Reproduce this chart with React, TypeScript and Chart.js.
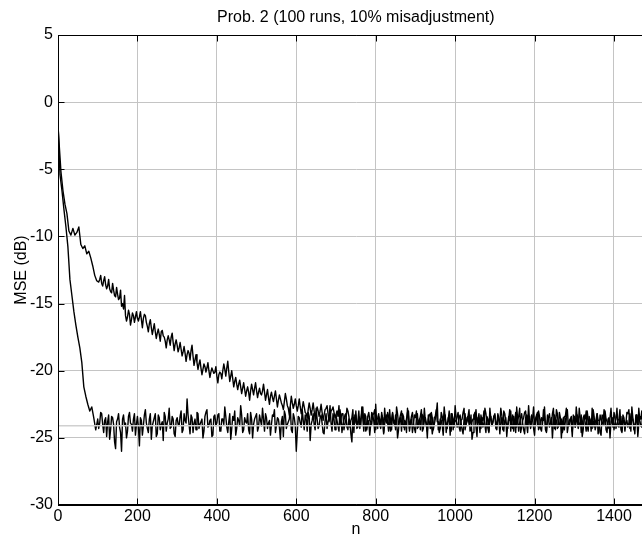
import React, { useEffect, useRef } from "react";
import { Chart, registerables } from "chart.js";

Chart.register(...registerables);

const TITLE = "Prob. 2 (100 runs, 10% misadjustment)";
const X_LABEL = "n";
const Y_LABEL = "MSE (dB)";
const X_MIN = 0;
const X_MAX = 1500;
const Y_MIN = -30;
const Y_MAX = 5;
const X_TICKS = [0, 200, 400, 600, 800, 1000, 1200, 1400];
const Y_TICKS = [5, 0, -5, -10, -15, -20, -25, -30];
const N_STEP = 5;
const REF_LEVEL = -24.1;

// fast curve, n = 0, 5, 10, ... 1495
const FAST_A = [
  -1.5, -5.4, -6.6, -8.0, -9.3, -10.8, -13.2, -14.4, -15.6, -16.6, -17.5, -18.3, -19.4, -21.2, -21.9, -22.5, -23.0, -22.7, -23.5, -24.4,
  -23.6, -23.9, -23.2, -24.6, -23.5, -23.8, -25.1, -23.4, -24.0, -25.8, -23.6, -24.2, -26.0, -23.3, -23.9, -24.5, -23.1, -24.0, -23.6, -24.8,
  -23.4, -25.6, -23.7, -24.1, -22.9, -24.3, -23.6, -25.1, -23.8, -23.2, -24.7, -23.5, -24.0, -25.2, -23.4, -23.9, -22.8, -24.2, -23.6, -24.9,
  -23.5, -24.1, -23.0, -24.4, -23.7, -22.1, -24.0, -23.3, -24.6, -23.6, -23.1, -24.3, -23.8, -25.0, -23.4, -22.9, -24.1, -23.6, -24.8, -23.3,
  -23.9, -23.2, -24.5, -23.6, -22.7, -24.2, -23.8, -25.1, -23.4, -23.0, -24.3, -23.7, -22.6, -24.6, -23.5, -23.9, -24.4, -23.1, -25.0, -23.6,
  -23.2, -24.2, -23.7, -22.8, -24.5, -23.5, -23.9, -24.8, -23.3, -22.9, -24.1, -23.6, -25.1, -23.4, -23.0, -24.3, -23.8, -22.7, -24.6, -23.5,
  -26.0, -23.4, -23.9, -22.9, -24.4, -23.6, -23.1, -25.2, -23.7, -24.0, -22.8, -24.3, -23.5, -23.9, -24.7, -23.2, -23.8, -22.6, -24.5, -23.6,
  -23.3, -24.1, -22.9, -24.6, -23.7, -23.2, -24.4, -23.8, -25.3, -23.5, -23.0, -24.2, -23.6, -22.7, -24.5, -23.4, -23.9, -24.8, -23.1, -23.7,
  -22.5, -24.3, -23.6, -23.1, -24.7, -23.5, -23.9, -22.9, -24.4, -23.7, -23.3, -25.0, -23.6, -23.0, -24.2, -23.8, -22.8, -24.5, -23.4, -23.9,
  -24.6, -23.2, -23.7, -22.9, -24.3, -23.5, -25.0, -23.8, -23.1, -24.4, -23.6, -22.4, -24.1, -23.7, -24.8, -23.3, -23.9, -23.0, -24.5, -23.6,
  -22.6, -24.2, -23.5, -23.9, -24.7, -23.2, -23.8, -22.9, -24.4, -23.6, -23.1, -24.9, -23.7, -23.3, -24.2, -22.8, -23.9, -24.6, -23.4, -23.8,
  -23.2, -24.4, -23.6, -22.8, -24.1, -23.7, -24.9, -23.4, -23.0, -24.3, -23.8, -22.7, -24.5, -23.5, -23.9, -24.7, -23.3, -22.6, -24.2, -23.6,
  -24.8, -23.4, -23.0, -24.3, -23.7, -22.7, -24.5, -23.6, -23.9, -25.0, -23.3, -22.9, -24.2, -23.7, -24.6, -23.4, -22.8, -24.1, -23.6, -24.9,
  -23.5, -22.7, -24.3, -23.8, -24.9, -23.4, -23.0, -24.5, -23.7, -22.8, -24.2, -23.6, -24.7, -23.3, -23.9, -22.9, -24.4, -23.6, -25.0, -23.5,
  -23.1, -24.3, -23.7, -22.9, -24.6, -23.5, -23.9, -24.2, -23.2, -22.7, -24.4, -23.8, -24.9, -23.4, -23.0, -24.1, -23.6, -22.8, -24.5, -23.7,
];

// fast curve, in-between samples n = 102.5, 107.5, ... 1497.5
const FAST_B_START = 102.5;
const FAST_B = [
  -24.3, -23.1, -24.0, -23.7, -24.9, -23.3, -24.4, -23.5, -25.3, -23.8, -23.2, -24.6, -23.6, -24.1, -25.0, -23.4, -23.9, -24.5, -23.2, -24.0,
  -24.2, -23.5, -24.8, -23.3, -23.9, -24.6, -23.2, -24.1, -23.5, -24.9, -23.3, -24.4, -23.8, -23.1, -24.5, -23.6, -24.3, -23.4, -24.7, -23.7,
  -24.0, -23.4, -24.6, -23.2, -23.9, -23.3, -24.7, -23.5, -23.9, -24.4, -23.2, -24.0, -23.6, -24.5, -23.1, -24.2, -23.7, -24.9, -23.4, -24.1,
  -23.3, -24.5, -23.6, -24.0, -23.4, -24.6, -23.2, -24.3, -23.7, -24.8, -23.5, -24.1, -23.3, -24.4, -23.8, -23.2, -24.7, -23.6, -24.0, -23.4,
  -24.5, -23.3, -24.1, -23.6, -23.2, -24.3, -23.7, -24.0, -23.4, -24.6, -23.5, -24.2, -23.8, -24.9, -23.3, -24.0, -23.6, -24.4, -23.2, -24.1,
  -24.6, -23.5, -24.2, -23.7, -23.3, -24.5, -23.4, -24.0, -23.2, -24.4, -23.6, -24.1, -23.3, -24.6, -23.7, -24.3, -23.5, -23.9, -23.2, -24.4,
  -23.7, -24.5, -23.4, -24.0, -23.3, -24.2, -23.6, -24.7, -23.5, -23.9, -24.3, -23.4, -24.1, -23.6, -23.2, -24.4, -23.7, -24.0, -23.3, -24.6,
  -23.9, -23.4, -24.2, -23.6, -24.0, -23.3, -24.5, -23.8, -23.2, -24.1, -23.6, -24.4, -23.3, -24.0, -23.7, -24.6, -23.4, -23.9, -23.1, -24.3,
  -23.6, -24.2, -23.4, -24.5, -23.7, -23.9, -23.3, -24.3, -23.5, -24.0, -23.2, -24.4, -23.6, -24.1, -23.4, -24.6, -23.7, -23.9, -23.3, -24.2,
  -23.5, -24.1, -23.3, -24.4, -23.6, -24.0, -23.4, -24.5, -23.8, -23.3, -24.2, -23.5, -24.6, -23.7, -23.9, -23.2, -24.3, -23.6, -24.0, -23.4,
  -24.3, -23.6, -23.9, -23.3, -24.5, -23.5, -24.0, -23.7, -24.2, -23.4, -24.6, -23.6, -23.9, -23.2, -24.4, -23.5, -24.1, -23.8, -23.3, -24.3,
  -23.6, -24.1, -23.4, -24.5, -23.7, -24.0, -23.3, -24.2, -23.5, -23.8, -24.4, -23.2, -24.0, -23.6, -24.3, -23.4, -24.6, -23.7, -23.9, -23.3,
  -24.2, -23.5, -24.0, -23.3, -24.4, -23.6, -24.1, -23.4, -24.5, -23.7, -23.9, -23.2, -24.3, -23.6, -24.0, -23.4, -24.6, -23.5, -23.8, -24.2,
  -23.4, -24.0, -23.6, -24.4, -23.3, -24.1, -23.7, -23.9, -24.5, -23.5, -24.2, -23.3, -24.0, -23.6, -24.4, -23.4, -23.8, -24.1, -23.5, -24.3,
];

// slow curve, n = 0, 7.5, 12.5, ... 1497.5 (first sample at 0)
const SLOW_A = [
  -1.8, -5.2, -6.6, -7.6, -8.3, -9.6, -9.9, -9.4, -9.9, -9.7, -9.3, -10.6, -10.9, -10.7, -11.3, -11.1, -11.6, -12.2, -12.9, -13.3,
  -13.4, -12.9, -13.7, -13.0, -13.9, -13.2, -14.1, -13.5, -14.4, -13.8, -14.7, -14.0, -15.0, -14.4, -16.3, -15.5, -16.6, -15.7, -16.4, -15.6,
  -16.3, -15.6, -16.8, -15.8, -16.4, -17.1, -16.2, -17.3, -16.5, -17.6, -16.9, -17.8, -17.0, -17.5, -18.3, -17.4, -18.1, -17.2, -18.5, -17.7,
  -18.6, -17.9, -18.9, -18.2, -19.3, -18.5, -19.2, -18.1, -19.6, -18.8, -19.9, -19.2, -20.3, -19.5, -20.1, -19.4, -20.5, -19.8, -20.2, -19.7,
  -20.9, -20.1, -20.6, -19.5, -20.4, -19.3, -20.8, -20.0, -21.2, -20.5, -21.4, -20.7, -21.7, -20.9, -21.9, -21.2, -22.2, -21.0, -21.8, -20.9,
  -22.0, -21.3, -21.8, -21.0, -22.2, -21.4, -22.5, -21.6, -22.3, -21.5, -22.7, -21.8, -22.4, -22.9, -21.7, -22.6, -23.3, -21.9, -22.8, -22.1,
  -23.0, -22.1, -23.2, -22.3, -23.1, -23.5, -22.4, -23.3, -22.4, -23.6, -22.7, -23.4, -22.5, -23.7, -22.9, -22.6, -23.8, -23.0, -22.7, -23.5,
  -23.0, -22.6, -23.5, -23.2, -24.0, -22.8, -23.4, -23.7, -22.9, -23.3, -24.1, -23.0, -23.6, -22.7, -23.5, -24.2, -23.1, -23.8, -23.3, -22.9,
  -23.7, -23.2, -24.3, -23.5, -22.8, -23.9, -23.4, -24.5, -23.1, -23.7, -22.7, -24.0, -23.5, -23.2, -24.4, -23.6, -23.0, -23.8, -24.6, -23.3,
  -23.0, -23.9, -24.4, -23.3, -22.8, -24.1, -23.6, -23.2, -24.7, -23.5, -22.9, -23.8, -24.3, -23.4, -22.7, -24.0, -23.5, -24.8, -23.2, -23.7,
  -23.8, -23.1, -24.5, -23.6, -22.8, -24.0, -23.4, -23.9, -25.1, -23.3, -22.9, -23.7, -24.2, -23.5, -23.0, -24.6, -23.6, -22.8, -24.1, -23.4,
  -23.9, -23.2, -24.7, -23.5, -23.0, -23.8, -24.3, -22.9, -23.6, -24.5, -23.1, -23.7, -22.8, -24.2, -23.5, -23.0, -24.6, -23.4, -23.8, -22.7,
  -23.6, -23.1, -24.2, -23.5, -22.9, -24.4, -23.7, -23.2, -24.0, -22.8, -23.6, -24.3, -23.1, -25.0, -23.5, -23.8, -22.9, -24.1, -23.4, -23.7,
  -24.2, -23.3, -22.8, -24.6, -23.5, -23.9, -23.0, -24.1, -23.6, -22.9, -24.4, -23.2, -23.7, -24.8, -23.4, -23.0, -23.8, -24.3, -22.8, -23.6,
  -23.9, -22.8, -24.2, -23.4, -23.7, -24.5, -23.1, -22.9, -24.0, -23.6, -24.7, -23.3, -22.8, -24.1, -23.5, -23.9, -24.4, -23.2, -23.0, -24.2,
];
const SLOW_A_OFFSET = 2.5;

// slow curve, in-between samples n = 105, 110, ... 1500
const SLOW_B_START = 105;
const SLOW_B = [
  -13.2, -13.5, -13.3, -13.6, -13.7, -13.9, -14.2, -14.0, -14.5, -14.3, -14.6, -15.2, -15.4, -15.9, -16.0, -15.8, -16.2, -15.9, -16.0, -16.1,
  -16.0, -16.2, -16.1, -15.9, -16.7, -16.5, -16.8, -16.9, -17.1, -17.2, -17.3, -17.1, -17.4, -17.8, -17.7, -17.7, -17.5, -17.9, -18.0, -18.1,
  -18.3, -18.4, -18.6, -18.7, -18.8, -18.7, -18.5, -18.9, -19.2, -19.4, -19.5, -19.8, -19.9, -19.7, -19.8, -20.0, -20.1, -20.0, -20.1, -20.4,
  -20.3, -20.2, -20.0, -19.9, -19.8, -20.1, -20.4, -20.6, -20.8, -21.0, -21.0, -21.2, -21.3, -21.4, -21.5, -21.6, -21.5, -21.4, -21.3, -21.5,
  -21.6, -21.7, -21.5, -21.6, -21.8, -22.0, -21.9, -22.0, -21.9, -22.1, -22.2, -22.1, -22.6, -22.3, -22.1, -22.8, -22.6, -22.4, -22.5, -22.6,
  -22.6, -22.7, -22.8, -22.7, -23.2, -22.9, -22.8, -22.9, -23.0, -23.1, -23.0, -23.0, -23.1, -23.3, -22.8, -23.2, -23.4, -22.9, -23.1, -23.3,
  -23.4, -24.1, -23.2, -24.4, -23.6, -23.0, -24.2, -23.5, -24.6, -23.3, -23.8, -24.3, -23.1, -23.9, -24.5, -23.4, -23.7, -24.0, -23.2, -24.4,
  -23.5, -24.0, -23.3, -24.6, -23.7, -23.1, -24.2, -23.6, -23.9, -24.4, -23.2, -23.8, -24.5, -23.4, -23.9, -23.1, -24.3, -23.6, -24.0, -23.5,
  -24.3, -23.6, -23.2, -24.0, -23.7, -24.5, -23.3, -23.9, -24.2, -23.4, -23.8, -24.6, -23.1, -24.0, -23.5, -24.3, -23.6, -23.2, -24.4, -23.7,
  -23.4, -24.2, -23.7, -23.1, -24.4, -23.5, -24.0, -23.3, -24.6, -23.6, -23.9, -23.2, -24.3, -23.7, -24.1, -23.4, -24.5, -23.6, -23.9, -23.3,
  -24.1, -23.5, -23.9, -24.4, -23.2, -24.0, -23.6, -24.5, -23.3, -23.8, -24.2, -23.4, -24.6, -23.7, -23.1, -24.0, -23.5, -24.3, -23.6, -24.1,
  -23.3, -24.4, -23.7, -24.0, -23.4, -24.6, -23.5, -23.9, -23.2, -24.3, -23.7, -24.1, -23.5, -23.9, -24.4, -23.2, -24.0, -23.6, -24.5, -23.4,
  -23.8, -24.2, -23.5, -24.0, -23.3, -24.5, -23.6, -23.9, -24.3, -23.4, -24.1, -23.7, -24.6, -23.3, -24.0, -23.6, -24.2, -23.5, -23.9, -24.4,
  -23.6, -24.1, -23.4, -24.5, -23.7, -23.9, -23.2, -24.3, -23.6, -24.0, -23.3, -24.4, -23.7, -24.2, -23.5, -23.9, -24.6, -23.4, -24.0, -23.6,
];

function toPoints(a: number[], aX: (i: number) => number, b: number[], bStart: number) {
  const pts = a.map((v, i) => ({ x: aX(i), y: v }));
  b.forEach((v, i) => pts.push({ x: bStart + i * N_STEP, y: v }));
  pts.sort((p, q) => p.x - q.x);
  return pts;
}

const FAST_POINTS = toPoints(FAST_A, (i) => i * N_STEP, FAST_B, FAST_B_START);
const SLOW_POINTS = toPoints(
  SLOW_A,
  (i) => (i === 0 ? 0 : i * N_STEP + SLOW_A_OFFSET),
  SLOW_B,
  SLOW_B_START
);

const FONT_FAMILY = "'Liberation Sans', Arial, Helvetica, sans-serif";
const FONT_SIZE = 16;
const GRID_COLOR = "#c4c4c4";
const REF_COLOR = "#d0d0d0";
const LINE_WIDTH = 1.4;

const framePlugin = {
  id: "matlabFrame",
  afterDraw(chart: any) {
    const { ctx, chartArea, scales } = chart;
    const { left, right, top, bottom } = chartArea;
    const x = scales.x;
    const y = scales.y;
    const tick = 6;
    ctx.save();
    ctx.strokeStyle = "#000";
    ctx.lineWidth = 1;
    ctx.beginPath();
    const t = Math.round(top) + 0.5;
    const b = Math.round(bottom) - 0.5;
    const l = Math.round(left) + 0.5;
    ctx.moveTo(l, t);
    ctx.lineTo(right, t);
    ctx.moveTo(l, t);
    ctx.lineTo(l, b);
    ctx.moveTo(l, b);
    ctx.lineTo(right, b);
    X_TICKS.forEach((v) => {
      const px = Math.round(x.getPixelForValue(v)) + 0.5;
      ctx.moveTo(px, b);
      ctx.lineTo(px, b - tick);
      ctx.moveTo(px, t);
      ctx.lineTo(px, t + tick);
    });
    Y_TICKS.forEach((v) => {
      const py = Math.round(y.getPixelForValue(v)) + 0.5;
      ctx.moveTo(l, py);
      ctx.lineTo(l + tick, py);
    });
    ctx.stroke();
    ctx.restore();
  },
};

export default function App() {
  const canvasRef = useRef<HTMLCanvasElement | null>(null);

  useEffect(() => {
    const canvas = canvasRef.current;
    if (!canvas) return;
    const font = { family: FONT_FAMILY, size: FONT_SIZE };
    const chart = new Chart(canvas, {
      type: "line",
      data: {
        datasets: [
          {
            label: "reference",
            data: [
              { x: X_MIN, y: REF_LEVEL },
              { x: X_MAX, y: REF_LEVEL },
            ],
            borderColor: REF_COLOR,
            borderWidth: 1.5,
            pointRadius: 0,
          },
          {
            label: "fast",
            data: FAST_POINTS,
            borderColor: "#000",
            borderWidth: LINE_WIDTH,
            pointRadius: 0,
            tension: 0,
            borderJoinStyle: "round",
          },
          {
            label: "slow",
            data: SLOW_POINTS,
            borderColor: "#000",
            borderWidth: LINE_WIDTH,
            pointRadius: 0,
            tension: 0,
            borderJoinStyle: "round",
          },
        ],
      },
      options: {
        animation: false,
        responsive: false,
        maintainAspectRatio: false,
        devicePixelRatio: 1,
        layout: { padding: { left: 0, right: 6.3, top: 0, bottom: 0 } },
        plugins: {
          legend: { display: false },
          tooltip: { enabled: false },
          title: {
            display: true,
            text: TITLE,
            color: "#000",
            fullSize: false,
            font: { family: FONT_FAMILY, size: FONT_SIZE, weight: "normal", lineHeight: 1.2 },
            padding: { top: 8.4, bottom: 7.4 },
          },
        },
        scales: {
          x: {
            type: "linear",
            min: X_MIN,
            max: X_MAX,
            afterBuildTicks: (s: any) => {
              s.ticks = X_TICKS.map((v) => ({ value: v }));
            },
            afterFit: (s: any) => {
              s.height = 35;
            },
            ticks: {
              font,
              color: "#000",
              padding: 2,
              maxRotation: 0,
              autoSkip: false,
              callback: (v: any) => String(v),
            },
            grid: { color: GRID_COLOR, lineWidth: 1, drawTicks: false },
            border: { color: "#000", width: 1 },
            title: {
              display: true,
              text: X_LABEL,
              color: "#000",
              font: { family: FONT_FAMILY, size: FONT_SIZE, lineHeight: 1 },
              padding: { top: 0, bottom: 2 },
            },
          },
          y: {
            type: "linear",
            min: Y_MIN,
            max: Y_MAX,
            afterBuildTicks: (s: any) => {
              s.ticks = Y_TICKS.map((v) => ({ value: v }));
            },
            afterFit: (s: any) => {
              s.width = 58;
            },
            ticks: { font, color: "#000", padding: 5, callback: (v: any) => String(v) },
            grid: { color: GRID_COLOR, lineWidth: 1, drawTicks: false },
            border: { color: "#000", width: 1 },
            title: {
              display: true,
              text: Y_LABEL,
              color: "#000",
              font: { family: FONT_FAMILY, size: FONT_SIZE, lineHeight: 1.2 },
              padding: { top: 11.5, bottom: 0 },
            },
          },
        },
      },
      plugins: [framePlugin],
    } as any);
    return () => chart.destroy();
  }, []);

  return (
    <div
      style={{
        position: "fixed",
        left: 0,
        top: 0,
        width: 642,
        height: 535,
        overflow: "hidden",
        background: "#fff",
      }}
    >
      <canvas ref={canvasRef} width={660} height={540} style={{ display: "block" }} />
    </div>
  );
}
